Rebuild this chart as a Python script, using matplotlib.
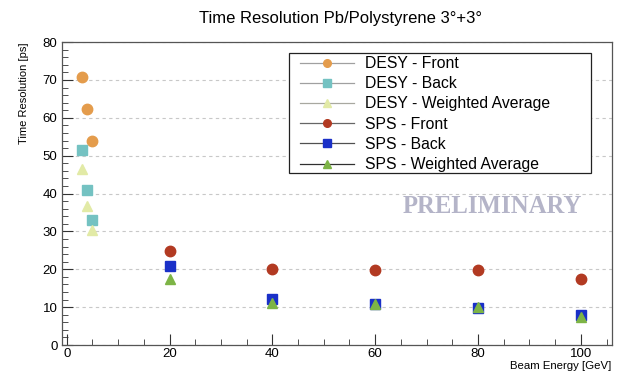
import numpy as np
import matplotlib.pyplot as plt
from matplotlib.lines import Line2D
from matplotlib.patches import Rectangle
from matplotlib.ticker import MultipleLocator

plt.rcParams['font.family'] = ['Liberation Sans', 'DejaVu Sans']

# Datos
desy_energy = [3, 4, 5]
desy_front = [70.9, 62.4, 53.9]
desy_back = [51.5, 41.0, 33.1]
desy_wavg = [46.4, 36.8, 30.3]

sps_energy = [20, 40, 60, 80, 100]
sps_front = [24.8, 20.1, 19.7, 19.9, 17.3]
sps_back = [20.8, 12.2, 10.9, 9.8, 8.0]
sps_wavg = [17.4, 11.1, 10.9, 10.0, 7.4]

series = [
    ('DESY - Front', desy_energy, desy_front, 'o', '#e49c4c', '#a0a0a0'),
    ('DESY - Back', desy_energy, desy_back, 's', '#74c2c2', '#a0a0a0'),
    ('DESY - Weighted Average', desy_energy, desy_wavg, '^', '#e2eaa6', '#a8a8a0'),
    ('SPS - Front', sps_energy, sps_front, 'o', '#b23a22', '#666666'),
    ('SPS - Back', sps_energy, sps_back, 's', '#1a30c8', '#505050'),
    ('SPS - Weighted Average', sps_energy, sps_wavg, '^', '#7db446', '#303030'),
]

W, H = 623, 371
L, R, T, B = 62.3, 611.7, 42.1, 345.0

fig = plt.figure(figsize=(W / 100, H / 100), dpi=100)
ax = fig.add_axes([L / W, 1 - B / H, (R - L) / W, (B - T) / H])

handles = []
for label, x, y, m, c, lc in series:
    ms = 7.5 if m != '^' else 7
    ax.plot(x, y, linestyle='none', marker=m, color=c, markersize=ms, zorder=3)
    handles.append(Line2D([], [], color=lc, lw=0.9, marker=m, markerfacecolor=c,
                          markeredgecolor=c, markersize=5.5, label=label))

ax.set_xlim(-0.86, 106)
ax.set_ylim(0, 80)
ax.xaxis.set_major_locator(MultipleLocator(20))
ax.xaxis.set_minor_locator(MultipleLocator(5))
ax.yaxis.set_major_locator(MultipleLocator(10))
ax.yaxis.set_minor_locator(MultipleLocator(2))
ax.tick_params(which='both', direction='in', labelsize=9.5, color='#333333')
ax.tick_params(which='major', length=8)
ax.tick_params(which='minor', length=4)
ax.tick_params(axis='x', pad=2)
ax.grid(axis='y', which='major', linestyle=(0, (3, 3)), color='#c8c8c8', lw=0.8)
for s in ax.spines.values():
    s.set_color('#555555')
    s.set_linewidth(0.9)

fig.text(340 / W, 1 - 18 / H, 'Time Resolution Pb/Polystyrene 3°+3°',
         ha='center', va='center', fontsize=12)
fig.text(24 / W, 1 - 43 / H, 'Time Resolution [ps]', rotation=90,
         ha='center', va='top', fontsize=8)
fig.text(R / W, 1 - 366 / H, 'Beam Energy [GeV]', ha='right', va='center', fontsize=8.2)

fig.text(492 / W, 1 - 207 / H, 'PRELIMINARY', ha='center', va='center',
         fontsize=17.8, fontweight='bold', family='Liberation Serif', color='#b4b4c8')

# Caja de la leyenda (estilo ROOT)
def ax_x(px):
    return (px - L) / (R - L)

def ax_y(py):
    return (B - py) / (B - T)

ax.add_patch(Rectangle((ax_x(289), ax_y(173)), ax_x(591) - ax_x(289), ax_y(53) - ax_y(173),
                       transform=ax.transAxes, facecolor='white', edgecolor='#222222',
                       lw=0.9, zorder=4))
leg = ax.legend(handles=handles, loc='upper left', bbox_to_anchor=(ax_x(297), ax_y(53)),
                frameon=False, fontsize=11.3, handlelength=3.4,
                borderpad=0.2, labelspacing=0.33, handletextpad=0.76,
                borderaxespad=0)
leg.set_zorder(5)

fig.savefig('out.png', dpi=100)
